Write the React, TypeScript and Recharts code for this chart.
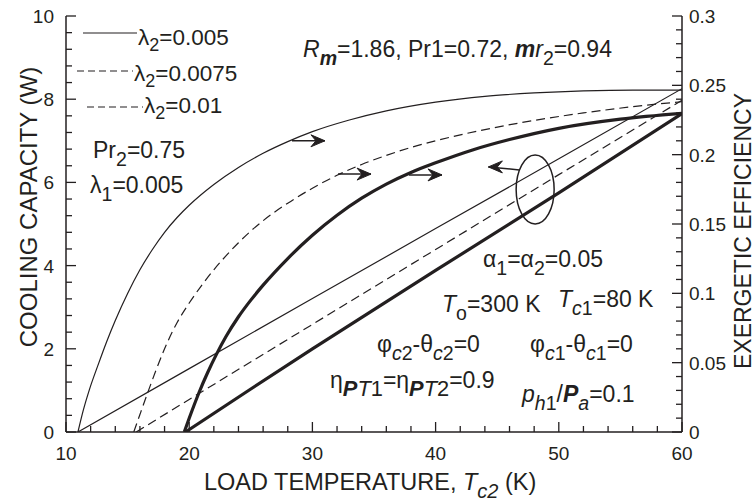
import React from "react";
import { LineChart, Line, XAxis, YAxis, ReferenceDot } from "recharts";

const INK = "#231f20";
const FONT = "'Liberation Sans', Arial, Helvetica, sans-serif";

// cooling capacity curves, load temperature (K) vs capacity (W)
const tempA = [10.97, 11.4, 11.9, 12.65, 13.3, 14, 15, 16, 17, 18, 19, 20, 22, 24, 26, 28, 30, 33, 36, 40, 44, 48, 52, 56, 60];
const capA = [0, 0.52, 1.02, 1.65, 2.17, 2.68, 3.33, 3.9, 4.38, 4.8, 5.15, 5.45, 5.95, 6.36, 6.7, 6.98, 7.22, 7.5, 7.72, 7.93, 8.07, 8.15, 8.2, 8.22, 8.22];

const tempB = [15.5, 16, 16.7, 17.3, 18, 19, 20, 21, 22, 23, 24, 25, 26, 28, 30, 32, 34, 36, 38, 40, 44, 48, 52, 56, 60];
const capB = [0, 0.42, 1.0, 1.48, 2.0, 2.62, 3.1, 3.52, 3.9, 4.24, 4.55, 4.83, 5.08, 5.5, 5.86, 6.17, 6.43, 6.65, 6.84, 7.0, 7.27, 7.49, 7.67, 7.82, 7.94];

const tempC = [19.6, 20, 20.8, 21.5, 22.2, 23, 24, 25, 26, 28, 30, 32, 34, 36, 38, 40, 43, 46, 50, 55, 60];
const capC = [0, 0.33, 0.95, 1.43, 1.86, 2.3, 2.77, 3.17, 3.53, 4.17, 4.73, 5.21, 5.62, 5.96, 6.24, 6.47, 6.78, 7.03, 7.3, 7.52, 7.66];

// exergetic efficiency lines
const tempD = [10.97, 20, 30, 40, 50, 60];
const effD = [0, 0.0457, 0.0962, 0.1467, 0.197, 0.2476];
const tempE = [15.7, 20, 30, 40, 50, 60];
const effE = [0, 0.0235, 0.0776, 0.1316, 0.1856, 0.2392];
const tempF = [19.7, 25, 30, 40, 50, 60];
const effF = [0, 0.031, 0.06, 0.1165, 0.1725, 0.2296];

const xTicks = [10, 12, 14, 16, 18, 20, 22, 24, 26, 28, 30, 32, 34, 36, 38, 40, 42, 44, 46, 48, 50, 52, 54, 56, 58, 60];
const capTicks = [0, 0.4, 0.8, 1.2, 1.6, 2, 2.4, 2.8, 3.2, 3.6, 4, 4.4, 4.8, 5.2, 5.6, 6, 6.4, 6.8, 7.2, 7.6, 8, 8.4, 8.8, 9.2, 9.6, 10];
const effTicks = [0, 0.01, 0.02, 0.03, 0.04, 0.05, 0.06, 0.07, 0.08, 0.09, 0.1, 0.11, 0.12, 0.13, 0.14, 0.15, 0.16, 0.17, 0.18, 0.19, 0.2, 0.21, 0.22, 0.23, 0.24, 0.25, 0.26, 0.27, 0.28, 0.29, 0.3];

// annotation arrows and ellipse (data coords on left axis)
const arrowsRight = [
  { t: 28.34, q: 7.0 },
  { t: 32.08, q: 6.2 },
  { t: 37.84, q: 6.18 },
];
const arrowLeft = { t: 46.8, q: 6.3 };
const ellipseAt = { t: 48.08, q: 5.83 };

const pts = (xs: number[], ys: number[]) => xs.map((t, i) => ({ t, v: ys[i] }));

function BottomTick(props: any) {
  const { x, y, payload } = props;
  const major = payload.value % 10 === 0;
  return (
    <g>
      <line x1={x} x2={x} y1={y} y2={y - (major ? 10 : 6)} stroke={INK} strokeWidth={1.3} />
      {major && (
        <text x={x} y={y + 28} textAnchor="middle" fontSize={19} fontFamily={FONT} fill={INK}>
          {payload.value}
        </text>
      )}
    </g>
  );
}

function TopTick(props: any) {
  const { x, y, payload } = props;
  const major = payload.value % 10 === 0;
  return <line x1={x} x2={x} y1={y} y2={y + (major ? 10 : 6)} stroke={INK} strokeWidth={1.3} />;
}

function LeftTick(props: any) {
  const { x, y, payload } = props;
  const v = payload.value;
  const major = Math.abs(v / 2 - Math.round(v / 2)) < 1e-6;
  return (
    <g>
      <line x1={x} x2={x + (major ? 10 : 6)} y1={y} y2={y} stroke={INK} strokeWidth={1.3} />
      {major && (
        <text x={x - 12} y={y + 7} textAnchor="end" fontSize={19} fontFamily={FONT} fill={INK}>
          {Math.round(v)}
        </text>
      )}
    </g>
  );
}

function RightTick(props: any) {
  const { x, y, payload } = props;
  const v = payload.value;
  const major = Math.round(v * 100) % 5 === 0;
  return (
    <g>
      <line x1={x} x2={x - (major ? 10 : 6)} y1={y} y2={y} stroke={INK} strokeWidth={1.3} />
      {major && (
        <text x={x + 7} y={y + 7} textAnchor="start" fontSize={19} fontFamily={FONT} fill={INK}>
          {String(Number(v.toFixed(2)))}
        </text>
      )}
    </g>
  );
}

function Arrow({ cx, cy, dir = 1, tilt = 0, len = 33 }: any) {
  const tx = cx + dir * len;
  const ty = cy + tilt;
  return (
    <g>
      <line x1={cx} y1={cy} x2={tx} y2={ty} stroke={INK} strokeWidth={1.5} />
      <path
        d={`M${tx},${ty} L${tx - dir * 14},${ty - 6} L${tx - dir * 9},${ty} L${tx - dir * 14},${ty + 6} Z`}
        fill={INK}
        stroke={INK}
        strokeWidth={1}
        strokeLinejoin="round"
      />
    </g>
  );
}

type Seg = { s: string; sub?: boolean; i?: boolean; b?: boolean };

function Rich({
  x,
  y,
  segs,
  size = 23,
  subScale = 0.85,
  drop = 0.33,
}: {
  x: number;
  y: number;
  segs: Seg[];
  size?: number;
  subScale?: number;
  drop?: number;
}) {
  let cur = 0;
  return (
    <text x={x} y={y} fontSize={size} fontFamily={FONT} fill={INK}>
      {segs.map((g, k) => {
        const target = g.sub ? size * drop : 0;
        const dy = target - cur;
        cur = target;
        return (
          <tspan
            key={k}
            dy={dy}
            fontSize={g.sub ? size * subScale : size}
            fontStyle={g.i ? "italic" : "normal"}
            fontWeight={g.b ? "bold" : "normal"}
          >
            {g.s}
          </tspan>
        );
      })}
    </text>
  );
}

function Overlay() {
  return (
    <svg width={756} height={503} style={{ position: "absolute", left: 0, top: 0, pointerEvents: "none" }}>
      {/* legend */}
      <line x1={83} x2={137} y1={33} y2={33} stroke={INK} strokeWidth={1.2} />
      <Rich x={138} y={45} size={22.5} drop={0.25} subScale={0.8} segs={[{ s: "λ" }, { s: "2", sub: true }, { s: "=0.005" }]} />
      <line x1={77} x2={133} y1={71} y2={71} stroke={INK} strokeWidth={1.2} strokeDasharray="7 4" />
      <Rich x={134} y={81} size={22.5} drop={0.25} subScale={0.8} segs={[{ s: "λ" }, { s: "2", sub: true }, { s: "=0.0075" }]} />
      <line x1={87} x2={143} y1={107} y2={107} stroke={INK} strokeWidth={1.2} strokeDasharray="7 4" />
      <Rich x={144} y={113} size={22.5} drop={0.25} subScale={0.8} segs={[{ s: "λ" }, { s: "2", sub: true }, { s: "=0.01" }]} />
      <Rich x={93} y={158} segs={[{ s: "Pr" }, { s: "2", sub: true }, { s: "=0.75" }]} />
      <Rich x={90} y={193} segs={[{ s: "λ" }, { s: "1", sub: true }, { s: "=0.005" }]} />

      <Rich
        x={303}
        y={57}
        segs={[
          { s: "R", i: true },
          { s: "m", sub: true, i: true, b: true },
          { s: "=1.86, Pr1=0.72, " },
          { s: "m", i: true, b: true },
          { s: "r", i: true },
          { s: "2", sub: true },
          { s: "=0.94" },
        ]}
      />
      <Rich x={483} y={267} segs={[{ s: "α" }, { s: "1", sub: true }, { s: "=α" }, { s: "2", sub: true }, { s: "=0.05" }]} />
      <Rich x={442} y={312} segs={[{ s: "T", i: true }, { s: "o", sub: true }, { s: "=300 K" }]} />
      <Rich x={558} y={307} segs={[{ s: "T", i: true }, { s: "c", sub: true, i: true }, { s: "1", sub: true }, { s: "=80 K" }]} />
      <Rich
        x={377}
        y={352}
        segs={[{ s: "φ" }, { s: "c", sub: true, i: true }, { s: "2", sub: true }, { s: "-θ" }, { s: "c", sub: true, i: true }, { s: "2", sub: true }, { s: "=0" }]}
      />
      <Rich
        x={530}
        y={352}
        segs={[{ s: "φ" }, { s: "c", sub: true, i: true }, { s: "1", sub: true }, { s: "-θ" }, { s: "c", sub: true, i: true }, { s: "1", sub: true }, { s: "=0" }]}
      />
      <Rich
        x={330}
        y={388}
        subScale={0.95}
        segs={[
          { s: "η" },
          { s: "P", sub: true, i: true, b: true },
          { s: "T", sub: true, i: true },
          { s: "1", sub: true },
          { s: "=η" },
          { s: "P", sub: true, i: true, b: true },
          { s: "T", sub: true, i: true },
          { s: "2", sub: true },
          { s: "=0.9" },
        ]}
      />
      <Rich
        x={522}
        y={402}
        segs={[
          { s: "p", i: true },
          { s: "h", sub: true, i: true },
          { s: "1", sub: true },
          { s: "/" },
          { s: "P", i: true, b: true },
          { s: "a", sub: true, i: true },
          { s: "=0.1" },
        ]}
      />

      {/* axis titles */}
      <text x={37} y={207} transform="rotate(-90 37 207)" textAnchor="middle" fontSize={24} fontFamily={FONT} fill={INK}>
        COOLING CAPACITY (W)
      </text>
      <text x={751} y={231} transform="rotate(-90 751 231)" textAnchor="middle" fontSize={23} fontFamily={FONT} fill={INK}>
        EXERGETIC EFFICIENCY
      </text>
      <Rich
        x={204}
        y={490}
        size={23.5}
        segs={[{ s: "LOAD TEMPERATURE, " }, { s: "T", i: true }, { s: "c2", sub: true, i: true }, { s: " (K)" }]}
      />
    </svg>
  );
}

export default function App() {
  const axisLine = { stroke: INK, strokeWidth: 1.5 };
  return (
    <div style={{ position: "absolute", left: 0, top: 0, width: 756, height: 503, background: "#fff", fontFamily: FONT }}>
      <LineChart width={756} height={503} margin={{ top: 16, right: 0, bottom: 0, left: 0 }}>
        <XAxis
          xAxisId="b"
          type="number"
          dataKey="t"
          domain={[10, 60]}
          allowDataOverflow
          ticks={xTicks}
          interval={0}
          height={71}
          tickSize={0}
          tickMargin={0}
          tickLine={false}
          axisLine={axisLine}
          tick={<BottomTick />}
        />
        <XAxis
          xAxisId="top"
          orientation="top"
          type="number"
          dataKey="t"
          domain={[10, 60]}
          allowDataOverflow
          ticks={xTicks}
          interval={0}
          height={0}
          tickSize={0}
          tickMargin={0}
          tickLine={false}
          axisLine={axisLine}
          tick={<TopTick />}
        />
        <YAxis
          yAxisId="l"
          type="number"
          domain={[0, 10]}
          allowDataOverflow
          ticks={capTicks}
          interval={0}
          width={66}
          tickSize={0}
          tickMargin={0}
          tickLine={false}
          axisLine={axisLine}
          tick={<LeftTick />}
        />
        <YAxis
          yAxisId="r"
          orientation="right"
          type="number"
          domain={[0, 0.3]}
          allowDataOverflow
          ticks={effTicks}
          interval={0}
          width={74}
          tickSize={0}
          tickMargin={0}
          tickLine={false}
          axisLine={axisLine}
          tick={<RightTick />}
        />

        <Line xAxisId="b" yAxisId="l" data={pts(tempA, capA)} dataKey="v" type="monotone" dot={false} stroke={INK} strokeWidth={1.2} isAnimationActive={false} />
        <Line xAxisId="b" yAxisId="l" data={pts(tempB, capB)} dataKey="v" type="monotone" dot={false} stroke={INK} strokeWidth={1.2} strokeDasharray="9 5" isAnimationActive={false} />
        <Line xAxisId="b" yAxisId="l" data={pts(tempC, capC)} dataKey="v" type="monotone" dot={false} stroke={INK} strokeWidth={3.2} isAnimationActive={false} />

        <Line xAxisId="b" yAxisId="r" data={pts(tempD, effD)} dataKey="v" type="linear" dot={false} stroke={INK} strokeWidth={1.2} isAnimationActive={false} />
        <Line xAxisId="b" yAxisId="r" data={pts(tempE, effE)} dataKey="v" type="linear" dot={false} stroke={INK} strokeWidth={1.2} strokeDasharray="9 5" isAnimationActive={false} />
        <Line xAxisId="b" yAxisId="r" data={pts(tempF, effF)} dataKey="v" type="linear" dot={false} stroke={INK} strokeWidth={3.2} isAnimationActive={false} />

        {arrowsRight.map((a, i) => (
          <ReferenceDot
            key={i}
            xAxisId="b"
            yAxisId="l"
            x={a.t}
            y={a.q}
            r={0}
            shape={(p: any) => <Arrow cx={p.cx} cy={p.cy} dir={1} />}
          />
        ))}
        <ReferenceDot
          xAxisId="b"
          yAxisId="l"
          x={arrowLeft.t}
          y={arrowLeft.q}
          r={0}
          shape={(p: any) => <Arrow cx={p.cx} cy={p.cy} dir={-1} tilt={-3} len={31} />}
        />
        <ReferenceDot
          xAxisId="b"
          yAxisId="l"
          x={ellipseAt.t}
          y={ellipseAt.q}
          r={0}
          shape={(p: any) => <ellipse cx={p.cx} cy={p.cy} rx={19} ry={34.5} fill="none" stroke={INK} strokeWidth={1.5} />}
        />
      </LineChart>
      <Overlay />
    </div>
  );
}
